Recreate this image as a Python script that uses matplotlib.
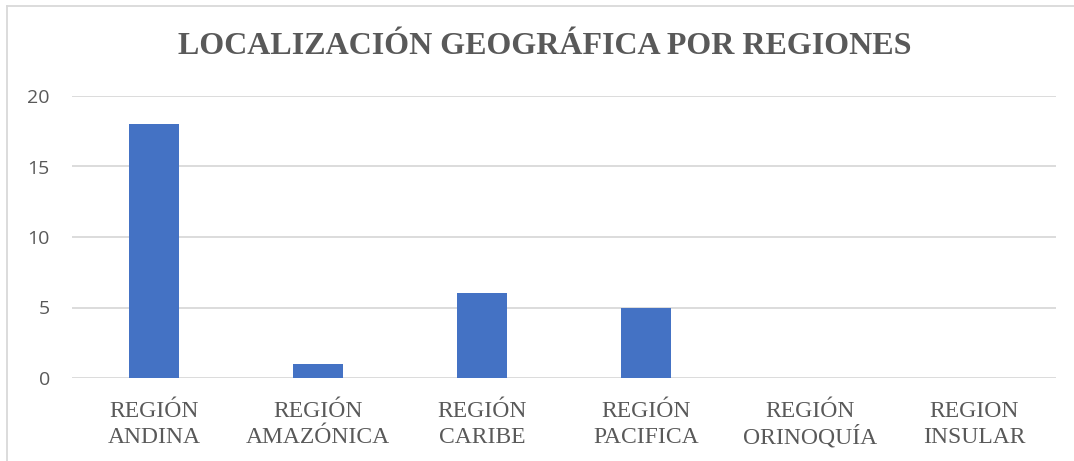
import matplotlib
matplotlib.use("Agg")
import matplotlib.pyplot as plt
from matplotlib.lines import Line2D

categories = ["REGIÓN\nANDINA", "REGIÓN\nAMAZÓNICA", "REGIÓN\nCARIBE",
              "REGIÓN\nPACIFICA", "REGIÓN\nORINOQUÍA", "REGION\nINSULAR"]
values = [18, 1, 6, 5, 0, 0]
yticks = [0, 5, 10, 15, 20]
title = "LOCALIZACIÓN GEOGRÁFICA POR REGIONES"

W, H = 1074, 461
fig = plt.figure(figsize=(W / 100, H / 100), dpi=100)
ax = fig.add_axes([72 / W, 1 - 378 / H, (1056 - 72) / W, (378 - 96) / H])

x = list(range(len(categories)))
ax.bar(x, values, width=0.31, color="#4472C4", zorder=3)
ax.set_xlim(-0.5, len(categories) - 0.5)
ax.set_ylim(0, 20)
ax.set_yticks(yticks)
ax.set_yticklabels([str(t) for t in yticks], family="Open Sans", fontsize=14, color="#595959")
ax.set_xticks(x)
ax.set_xticklabels([""] * len(categories))
# category labels, one line at a time so accented lines stay aligned
for xi, label in zip(x, categories):
    for li, line in enumerate(label.split("\n")):
        ax.annotate(line, xy=(xi, 0), xycoords=("data", "axes fraction"),
                    xytext=(0, -39 - 26 * li), textcoords="offset pixels",
                    ha="center", va="baseline",
                    family="Liberation Serif", fontsize=17, color="#595959")
ax.tick_params(axis="both", length=0)
ax.tick_params(axis="y", pad=16)
for s in ax.spines.values():
    s.set_visible(False)
ax.grid(axis="y", color="#d9d9d9", linewidth=1.3, zorder=0)
ax.set_axisbelow(True)

fig.text(545 / W, 1 - 46 / H, title, ha="center", va="center", family="Liberation Serif",
         fontweight="bold", fontsize=23, color="#595959")

# chart border (left and top visible)
fig.add_artist(Line2D([7.5 / W, 7.5 / W], [0, 1 - 6 / H], transform=fig.transFigure,
                      color="#d9d9d9", linewidth=1.3))
fig.add_artist(Line2D([7.5 / W, 1], [1 - 6 / H, 1 - 6 / H], transform=fig.transFigure,
                      color="#d9d9d9", linewidth=1.3))

fig.savefig("out.png", dpi=100)
